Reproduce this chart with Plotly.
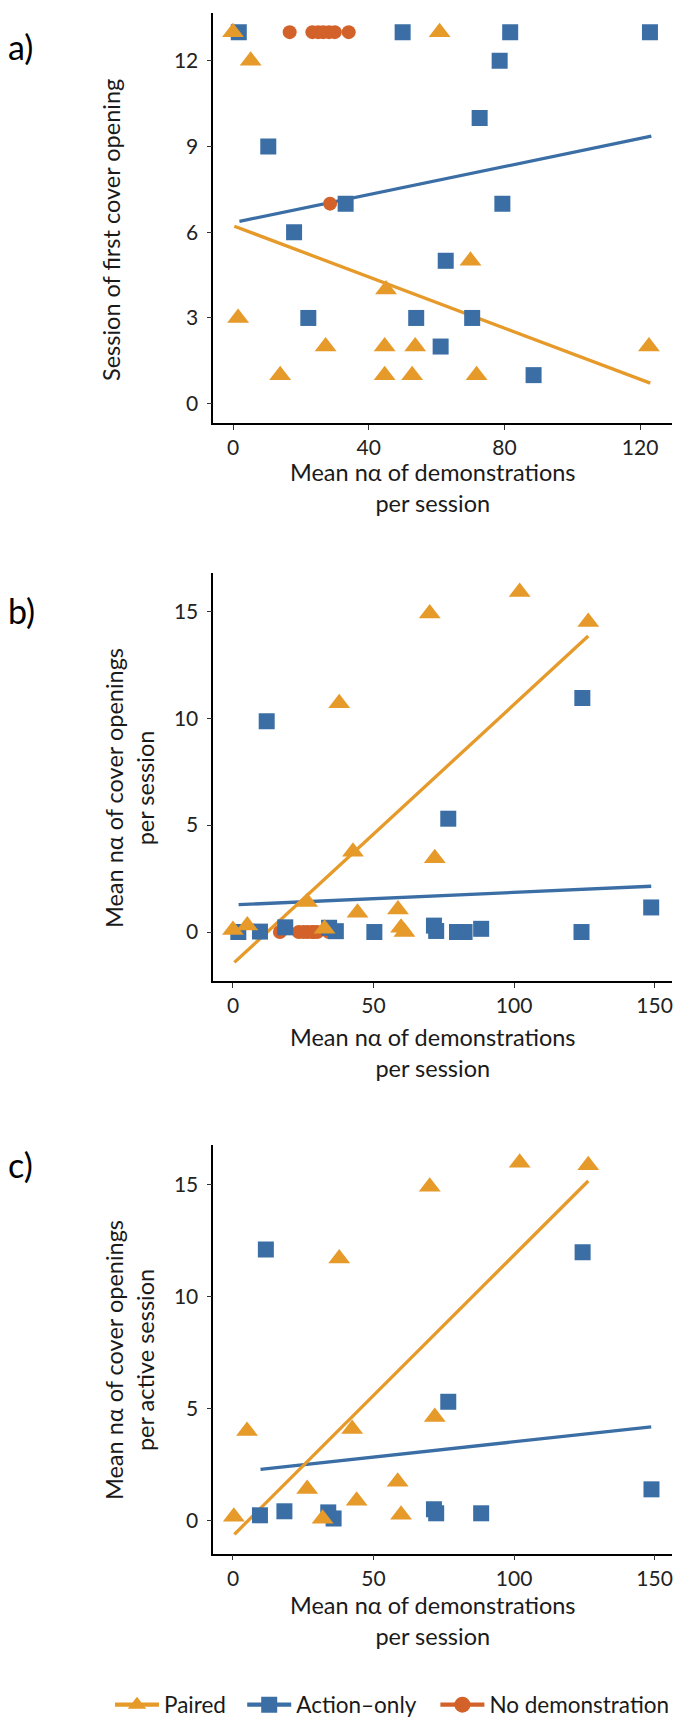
import plotly.graph_objects as go

W, H = 685, 1725
FONT = "Lato"
ORANGE = "#E69A2A"
BLUE = "#3A6EA5"
RED = "#D2622A"

# ---------- Panel a: session of first cover opening ----------
a_paired_x = [0, 5.2, 1.5, 13.9, 27.3, 44.7, 45.1, 44.7, 53.7, 52.8, 60.9, 70.0, 71.8, 122.6]
a_paired_y = [13, 12, 3, 1, 2, 2, 4, 1, 2, 1, 13, 5, 1, 2]
a_action_x = [1.7, 10.4, 18.0, 22.2, 33.2, 50.0, 54.0, 61.2, 62.7, 70.5, 72.7, 78.6, 79.4, 81.7, 88.6, 122.9]
a_action_y = [13, 9, 6, 3, 7, 13, 3, 2, 5, 3, 10, 12, 7, 13, 1, 13]
a_nodemo_x = [16.7, 23.4, 25.1, 26.6, 28.3, 30.0, 34.1, 28.6]
a_nodemo_y = [13, 13, 13, 13, 13, 13, 13, 7]
a_fit_paired_x = [0.4, 123.0]
a_fit_paired_y = [6.21, 0.72]
a_fit_action_x = [1.9, 123.3]
a_fit_action_y = [6.38, 9.36]

# ---------- Panel b: mean no. of cover openings per session ----------
b_paired_x = [0, 5.1, 26.4, 32.6, 37.8, 42.7, 44.3, 58.7, 59.8, 61.0, 70.0, 71.8, 102.0, 126.4]
b_paired_y = [0.1, 0.3, 1.4, 0.15, 10.7, 3.75, 0.9, 1.05, 0.2, 0.0, 14.9, 3.45, 15.9, 14.5]
b_action_x = [1.9, 9.6, 18.6, 12.0, 34.2, 36.6, 50.3, 71.5, 72.3, 76.6, 79.7, 82.4, 88.3, 124.0, 124.3, 148.8]
b_action_y = [0, 0.02, 0.22, 9.86, 0.2, 0.04, 0, 0.3, 0.05, 5.3, 0, 0, 0.15, 0, 10.95, 1.15]
b_nodemo_x = [16.7, 23.4, 25.1, 26.6, 28.3, 30.0, 34.1, 28.6]
b_nodemo_y = [0, 0, 0, 0, 0, 0, 0, 0]
b_fit_paired_x = [0.5, 126.4]
b_fit_paired_y = [-1.42, 13.84]
b_fit_action_x = [2.0, 148.8]
b_fit_action_y = [1.28, 2.14]

# ---------- Panel c: mean no. of cover openings per active session ----------
c_paired_x = [0.3, 5.0, 26.4, 31.9, 37.8, 42.4, 44.0, 58.6, 59.8, 70.0, 71.8, 102.0, 126.4]
c_paired_y = [0.17, 4.0, 1.4, 0.08, 11.7, 4.08, 0.88, 1.73, 0.26, 14.9, 4.62, 15.97, 15.86]
c_action_x = [9.6, 11.7, 18.3, 33.9, 35.8, 71.5, 72.3, 76.6, 88.3, 124.4, 148.9]
c_action_y = [0.23, 12.1, 0.41, 0.36, 0.09, 0.5, 0.32, 5.3, 0.32, 11.98, 1.39]
c_fit_paired_x = [0.5, 126.4]
c_fit_paired_y = [-0.62, 15.16]
c_fit_action_x = [9.8, 148.8]
c_fit_action_y = [2.28, 4.18]

x_ticks_a = [0, 40, 80, 120]
y_ticks_a = [0, 3, 6, 9, 12]
x_ticks_bc = [0, 50, 100, 150]
y_ticks_bc = [0, 5, 10, 15]

group_names = ["Paired", "Action\u2013only", "No demonstration"]
# trailing spacing so legend entries are spread like the reference key
legend_pad = ["\u2002", "\u2002\u2009", ""]

fig = go.Figure()

def px_x(p):
    return p / W

def px_y(p):
    return 1 - p / H

SQ = dict(symbol="square", size=16, color=BLUE)
TRI = dict(symbol="triangle-up", size=19, color=ORANGE)
CIR = dict(symbol="circle", size=14, color=RED)
LW = 3.3

def add_panel(k, paired, action, nodemo, fit_p, fit_a):
    xa = "x" if k == 1 else f"x{k}"
    ya = "y" if k == 1 else f"y{k}"
    fig.add_trace(go.Scatter(x=fit_a[0], y=fit_a[1], mode="lines", line=dict(color=BLUE, width=LW),
                             xaxis=xa, yaxis=ya, showlegend=False, hoverinfo="skip"))
    fig.add_trace(go.Scatter(x=fit_p[0], y=fit_p[1], mode="lines", line=dict(color=ORANGE, width=LW),
                             xaxis=xa, yaxis=ya, showlegend=False, hoverinfo="skip"))
    if nodemo is not None:
        fig.add_trace(go.Scatter(x=nodemo[0], y=nodemo[1], mode="markers", marker=CIR,
                                 xaxis=xa, yaxis=ya, showlegend=False))
    fig.add_trace(go.Scatter(x=action[0], y=action[1], mode="markers", marker=SQ,
                             xaxis=xa, yaxis=ya, showlegend=False))
    fig.add_trace(go.Scatter(x=paired[0], y=paired[1], mode="markers", marker=TRI,
                             xaxis=xa, yaxis=ya, showlegend=False))

add_panel(1, (a_paired_x, a_paired_y), (a_action_x, a_action_y), (a_nodemo_x, a_nodemo_y),
          (a_fit_paired_x, a_fit_paired_y), (a_fit_action_x, a_fit_action_y))
add_panel(2, (b_paired_x, b_paired_y), (b_action_x, b_action_y), (b_nodemo_x, b_nodemo_y),
          (b_fit_paired_x, b_fit_paired_y), (b_fit_action_x, b_fit_action_y))
add_panel(3, (c_paired_x, c_paired_y), (c_action_x, c_action_y), None,
          (c_fit_paired_x, c_fit_paired_y), (c_fit_action_x, c_fit_action_y))

# legend-only entries (line through marker, as in the reference key)
for name, pad, mk, col in zip(group_names, legend_pad, [TRI, SQ, CIR], [ORANGE, BLUE, RED]):
    fig.add_trace(go.Scatter(x=[None], y=[None], mode="lines+markers", name=name + pad,
                             marker=dict(mk, size=22), line=dict(color=col, width=LW + 1),
                             xaxis="x3", yaxis="y3", showlegend=True))

tickfont = dict(family=FONT, size=21, color="#222222")
axis_common = dict(showline=True, linecolor="black", linewidth=1.6, ticks="outside",
                   ticklen=5, tickwidth=1.2, tickcolor="#333333", showgrid=False,
                   zeroline=False, tickfont=tickfont, fixedrange=True)
yextra = dict(ticklabelstandoff=4)

xdom = [px_x(205.3), px_x(664)]
fig.update_layout(
    xaxis=dict(domain=xdom, range=[-5.81, 129.4], tickvals=x_ticks_a, anchor="y", **axis_common),
    yaxis=dict(domain=[px_y(415), px_y(5)], range=[-0.675, 13.67], tickvals=y_ticks_a, anchor="x", **axis_common, **yextra),
    xaxis2=dict(domain=xdom, range=[-7.0, 156.2], tickvals=x_ticks_bc, anchor="y2", **axis_common),
    yaxis2=dict(domain=[px_y(973), px_y(565)], range=[-2.29, 16.79], tickvals=y_ticks_bc, anchor="x2", **axis_common, **yextra),
    xaxis3=dict(domain=xdom, range=[-7.0, 156.2], tickvals=x_ticks_bc, anchor="y3", **axis_common),
    yaxis3=dict(domain=[px_y(1545.6), px_y(1136.7)], range=[-1.48, 16.78], tickvals=y_ticks_bc, anchor="x3", **axis_common, **yextra),
)

TFS = 23.5
titlefont = dict(family=FONT, size=TFS, color="#1a1a1a")
xtitle = "Mean n\u03b1 of demonstrations<br>per session"
ann = []
for cy in [467, 1032, 1600]:
    ann.append(dict(text=xtitle, x=px_x(425), y=px_y(cy - 18), xref="paper", yref="paper",
                    xanchor="center", yanchor="top", showarrow=False, font=titlefont, borderpad=0))
ann.append(dict(text="Session of first cover opening", x=px_x(103), y=px_y(222), xref="paper", yref="paper",
                xanchor="center", yanchor="middle", textangle=-90, showarrow=False, font=titlefont))
ann.append(dict(text="Mean n\u03b1 of cover openings<br>per session", x=px_x(121), y=px_y(780), xref="paper", yref="paper",
                xanchor="center", yanchor="middle", textangle=-90, showarrow=False, font=titlefont))
ann.append(dict(text="Mean n\u03b1 of cover openings<br>per active session", x=px_x(121), y=px_y(1352), xref="paper", yref="paper",
                xanchor="center", yanchor="middle", textangle=-90, showarrow=False, font=titlefont))
for lab, cy in [("a)", 38), ("b)", 602), ("c)", 1156)]:
    ann.append(dict(text=lab, x=px_x(-2), y=px_y(cy), xref="paper", yref="paper",
                    xanchor="left", yanchor="middle", showarrow=False,
                    font=dict(family=FONT, size=34, color="black")))

fig.update_layout(
    annotations=ann,
    width=W, height=H,
    margin=dict(l=0, r=0, t=0, b=0),
    paper_bgcolor="white", plot_bgcolor="white",
    legend=dict(orientation="h", x=px_x(102), y=px_y(1697), xanchor="left", yanchor="middle",
                font=dict(family=FONT, size=22.5, color="#1a1a1a"), itemwidth=44,
                itemsizing="trace", bgcolor="rgba(0,0,0,0)"),
    showlegend=True,
)

fig.write_html("out.html")
